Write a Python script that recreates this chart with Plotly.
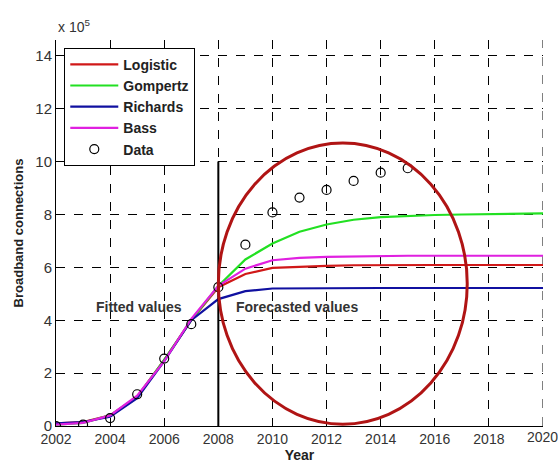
import plotly.graph_objects as go

years = list(range(2002, 2021))
logistic = [0.10, 0.15, 0.40, 1.10, 2.50, 4.00, 5.25, 5.75, 5.98, 6.03, 6.06, 6.08, 6.09, 6.09, 6.09, 6.09, 6.09, 6.09, 6.09]
gompertz = [0.05, 0.12, 0.40, 1.10, 2.50, 4.00, 5.30, 6.30, 6.90, 7.35, 7.62, 7.80, 7.90, 7.95, 7.98, 8.00, 8.02, 8.03, 8.04]
richards = [0.10, 0.15, 0.35, 1.05, 2.45, 4.00, 4.80, 5.10, 5.20, 5.21, 5.22, 5.22, 5.22, 5.22, 5.22, 5.22, 5.22, 5.22, 5.22]
bass = [0.05, 0.12, 0.40, 1.15, 2.45, 4.05, 5.30, 5.95, 6.27, 6.36, 6.40, 6.42, 6.44, 6.44, 6.44, 6.44, 6.44, 6.44, 6.44]

data_years = list(range(2002, 2016))
data_vals = [0.0, 0.05, 0.30, 1.20, 2.55, 3.85, 5.25, 6.86, 8.08, 8.64, 8.93, 9.27, 9.58, 9.75]

x_ticks = list(range(2002, 2021, 2))
y_ticks = list(range(0, 15, 2))

FONT = "Arial, Liberation Sans"
fig = go.Figure()
series = [("Logistic", logistic, "#d01818"), ("Gompertz", gompertz, "#22e022"),
          ("Richards", richards, "#1010a0"), ("Bass", bass, "#e020e0")]
for name, vals, col in series:
    fig.add_trace(go.Scatter(x=years, y=vals, mode="lines", name="<b>%s</b>" % name,
                             line=dict(color=col, width=2.2)))
fig.add_trace(go.Scatter(x=data_years, y=data_vals, mode="markers", name="<b>Data</b>",
                         marker=dict(symbol="circle-open", size=9, color="black",
                                     line=dict(width=1.2, color="black"))))

# right-hand grid line at 2020
fig.add_shape(type="line", x0=x_ticks[-1], x1=x_ticks[-1], y0=0, y1=1, xref="x", yref="paper",
              line=dict(color="black", width=1, dash="dash"), layer="below")
# separator line at 2008
fig.add_shape(type="line", x0=2008, x1=2008, y0=0, y1=10, xref="x", yref="y",
              line=dict(color="black", width=2))
# red ellipse
fig.add_shape(type="circle", x0=2008.0, x1=2017.2, y0=0.07, y1=10.7, xref="x", yref="y",
              line=dict(color="#b01414", width=3))

fig.add_annotation(x=2005.06, y=4.5, text="<b>Fitted values</b>", showarrow=False,
                   font=dict(family=FONT, size=14, color="#333"))
fig.add_annotation(x=2010.9, y=4.5, text="<b>Forecasted values</b>", showarrow=False,
                   font=dict(family=FONT, size=14, color="#333"))
fig.add_annotation(xref="paper", yref="paper", x=0.0, y=1.0, xanchor="left", yanchor="bottom",
                   yshift=3, text="x 10<sup>5</sup>", showarrow=False,
                   font=dict(family=FONT, size=14, color="#333"))
# last x tick label (would be clipped by the axis)
fig.add_annotation(x=x_ticks[-1], xref="x", y=0, yref="paper", yanchor="top", yshift=-1,
                   xanchor="center", xshift=-1,
                   text=str(x_ticks[-1]), showarrow=False,
                   font=dict(family=FONT, size=14, color="#333"))

fig.update_xaxes(range=[2002, 2020], tickvals=x_ticks[:-1], ticktext=[str(t) for t in x_ticks[:-1]],
                 showgrid=True, gridcolor="black", griddash="dash", gridwidth=1,
                 showline=True, linecolor="black", linewidth=1, ticks="inside", ticklen=4,
                 tickcolor="black", zeroline=False, automargin=False,
                 tickfont=dict(family=FONT, size=14, color="#333"),
                 title=dict(text="<b>Year</b>", standoff=3,
                            font=dict(family=FONT, size=14, color="#222")))
fig.update_yaxes(range=[0, 14.6], tickvals=y_ticks, ticktext=[str(t) for t in y_ticks],
                 showgrid=True, gridcolor="black", griddash="dash", gridwidth=1,
                 showline=True, linecolor="black", linewidth=1, ticks="inside", ticklen=4,
                 tickcolor="black", zeroline=False, automargin=False,
                 tickfont=dict(family=FONT, size=15, color="#333"),
                 title=dict(text="<b>Broadband connections</b>", standoff=8,
                            font=dict(family=FONT, size=13, color="#222")))

fig.update_layout(
    width=558, height=463,
    margin=dict(l=56, r=15, t=40, b=37),
    plot_bgcolor="white", paper_bgcolor="white",
    showlegend=True,
    legend=dict(x=0.017, y=0.98, xanchor="left", yanchor="top",
                bordercolor="black", borderwidth=1, bgcolor="white",
                tracegroupgap=0, itemwidth=48,
                font=dict(family=FONT, size=14, color="#222")),
)
fig.write_html("out.html")
